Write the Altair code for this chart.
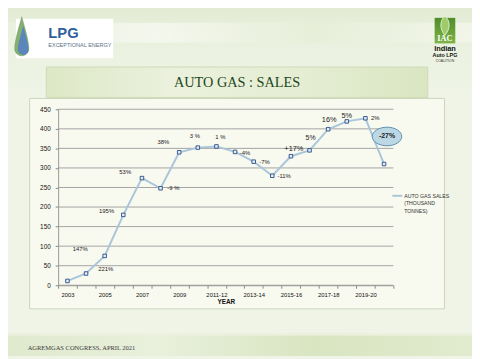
import json
import altair as alt
import pandas as pd

# ---------------- data ----------------
categories = ["2003", "2004", "2005", "2006", "2007", "2008", "2009", "2010-11",
              "2011-12", "2012-13", "2013-14", "2014-15", "2015-16", "2016-17",
              "2017-18", "2018-19", "2019-20", "2020-21"]
sales = [11, 30, 75, 180, 274, 248, 340, 352, 355, 341, 316, 280, 330, 345,
         399, 419, 427, 310]
growth_labels = ["", "147%", "221%", "195%", "53%", "-9 %", "38%", "3 %", "1 %",
                 "-4%", "-7%", "-11%", "+17%", "5%", "16%", "5%", "2%", "-27%"]
shown_ticks = ["2003", "2005", "2007", "2009", "2011-12", "2013-14", "2015-16",
               "2017-18", "2019-20"]
y_ticks = [0, 50, 100, 150, 200, 250, 300, 350, 400, 450]
legend_lines = ["AUTO GAS SALES", "(THOUSAND", "TONNES)"]

# ---------------- layout (label offsets in px, font sizes) ----------------
label_dx = [0, -6, 1, -17, -17, 13, -16, -3, 4, 10, 11, 12, 3, 1, 1, 0, 10, 3]
label_dy = [0, -25, 13, -4, -6, 0, -10, -12, -10, 1, 0, 0, -7, -13, -9, -5, 0, -28]
label_size = [6, 6, 6, 6, 6, 6, 6, 6, 6, 6, 6, 6, 7.5, 7, 7.5, 7.5, 6, 7]

df = pd.DataFrame({"cat": categories, "sales": sales, "lbl": growth_labels})
grid_df = pd.DataFrame({"sales": y_ticks})
one = pd.DataFrame({"a": [0]})

X0, Y0 = 59, 108  # page position of plot origin
W, H = 341, 179

LINE_COL = "#a9c6da"


def box(x1, y1, x2, y2, **kw):
    return alt.Chart(one).mark_rect(**kw).encode(
        x=alt.value(x1 - X0), x2=alt.value(x2 - X0),
        y=alt.value(y1 - Y0), y2=alt.value(y2 - Y0))


def txt(px, py, s, **kw):
    return alt.Chart(one).mark_text(text=s, **kw).encode(
        x=alt.value(px - X0), y=alt.value(py - Y0))


def shape(px, py, path, size, **kw):
    return alt.Chart(one).mark_point(shape=path, size=size, filled=True,
                                     opacity=1, **kw).encode(
        x=alt.value(px - X0), y=alt.value(py - Y0))


def grad(colors, vertical=False):
    n = len(colors) - 1
    return alt.LinearGradient(
        gradient="linear",
        stops=[alt.GradientStop(color=c, offset=i / n) for i, c in enumerate(colors)],
        x1=0, x2=0 if vertical else 1, y1=0, y2=1 if vertical else 0)


DROP = "M0,-1 C0.1,-0.6 0.36,0.2 0.36,0.62 A0.36,0.36 0 1 1 -0.36,0.62 C-0.36,0.2 -0.1,-0.6 0,-1 Z"
LEAF = "M0,-1 C0.55,-0.55 0.6,0.3 0,1 C-0.6,0.3 -0.55,-0.55 0,-1 Z"

back = [
    box(0, 0, 480, 100, fill=grad(["#e2ead3", "#ecf2e1", "#eff4e7"], vertical=True)),
    box(0, 20, 480, 40, fill=grad(["#eaf0de", "#f7f9f1", "#e6eed8", "#f4f7ec"]), opacity=0.8),
    box(0, 336, 480, 359, fill=grad(["#dfe9cc", "#e9f0dc", "#d8e5c1", "#e1ebce"])),
    box(0, 336, 480, 338, fill="#edf2e0"),
    # chart box
    box(30, 97, 452, 311, fill="#f8f9ef", stroke="#cdd4bb", strokeWidth=1),
    # title box
    box(47, 65, 435, 96, fill=grad(["#dde8c6", "#ebf1dd", "#e5edd3", "#dae6c2"]),
        stroke="#cfd9b6", strokeWidth=1),
]

front = [
    txt(241, 81, "AUTO GAS : SALES", font="Liberation Serif", fontSize=14.5,
        color="#1d4620", align="center", baseline="middle"),
    # LPG logo
    box(16, 16, 115, 56, fill="#ffffff"),
    shape(22, 34, DROP, 1600, fill="#86b06e", stroke="#6f9c5a", strokeWidth=0.5),
    shape(23.5, 38, DROP, 900, fill="#5a86bb"),
    txt(49, 35, "LPG", font="Liberation Sans", fontSize=15, fontWeight="bold",
        color="#2f5f9f", align="left", baseline="alphabetic"),
    txt(49, 45, "EXCEPTIONAL ENERGY", font="Liberation Sans", fontSize=5.6,
        color="#5b6f88", align="left", baseline="alphabetic"),
    # IAC logo
    box(442, 15, 463, 41, fill=grad(["#4f8c2a", "#7fb446"], vertical=True)),
    shape(452.5, 23, LEAF, 380, fill="#9fcb6c", stroke="#eef7e0", strokeWidth=0.8),
    txt(452.5, 38.5, "IAC", font="Liberation Serif", fontSize=8.5, fontWeight="bold",
        color="#ffffff", align="center", baseline="alphabetic"),
    txt(452.5, 49, "Indian", font="Liberation Sans", fontSize=7.5, fontWeight="bold",
        color="#111111", align="center", baseline="alphabetic"),
    txt(452.5, 55, "Auto LPG", font="Liberation Sans", fontSize=5.5, fontWeight="bold",
        color="#111111", align="center", baseline="alphabetic"),
    txt(452.5, 59.5, "COALITION", font="Liberation Sans", fontSize=3.5,
        color="#333333", align="center", baseline="alphabetic"),
    # footer
    txt(28, 353, "AGREMGAS CONGRESS, APRIL 2021", font="Liberation Serif", fontSize=6.6,
        color="#3a3a3a", align="left", baseline="alphabetic"),
    # legend
    alt.Chart(one).mark_rule(color=LINE_COL, strokeWidth=2).encode(
        x=alt.value(399 - X0), x2=alt.value(409 - X0), y=alt.value(196 - Y0)),
]
for i, s in enumerate(legend_lines):
    front.append(txt(411, 196 + 7.6 * i, s, font="Liberation Sans", fontSize=5.3,
                     color="#333333", align="left", baseline="middle"))

x_scale = alt.Scale(type="band", paddingInner=0, paddingOuter=0)
y_scale = alt.Scale(domain=[0, 450], nice=False, zero=True)
label_expr = f"indexof({json.dumps(shown_ticks)}, datum.value) >= 0 ? datum.label : ''"

x_axis = alt.Axis(title="YEAR", labelExpr=label_expr, labelAngle=0, labelFontSize=6,
                  labelColor="#111111", labelFont="Liberation Sans", labelPadding=3,
                  tickBand="extent", tickSize=3, tickColor="#888888",
                  domainColor="#999999", titleFontSize=6.5, titleFont="Liberation Sans",
                  titleFontWeight="bold", titleColor="#111111", titlePadding=2,
                  grid=False, zindex=1)
y_axis = alt.Axis(title=None, values=y_ticks, labelFontSize=6.5, labelColor="#111111",
                  labelFont="Liberation Sans", labelPadding=5, tickSize=3,
                  tickColor="#888888", domainColor="#999999", grid=False, zindex=1)


def X():
    return alt.X("cat:N", sort=categories, scale=x_scale, bandPosition=0.5, axis=x_axis)


def Y():
    return alt.Y("sales:Q", scale=y_scale, axis=y_axis)


grid = alt.Chart(grid_df).mark_rule(color="#a3a3a3", strokeWidth=1).encode(y=Y())

line = alt.Chart(df).mark_line(color=LINE_COL, strokeWidth=2).encode(x=X(), y=Y())

pts = alt.Chart(df).mark_point(shape="square", size=13, filled=True, opacity=1,
                               fill="#e3edf6", stroke="#2a4a86", strokeWidth=0.9).encode(
    x=X(), y=Y())

ellipse = alt.Chart(df).transform_filter(alt.datum.cat == "2020-21").mark_point(
    shape="M-1,0 A1,0.63 0 1,0 1,0 A1,0.63 0 1,0 -1,0 Z", size=900, filled=True,
    opacity=1, fill="#bcd8e5", stroke="#5f8fae", strokeWidth=1, xOffset=3, yOffset=-28
).encode(x=X(), y=Y())

labels = []
for i, c in enumerate(categories):
    if not growth_labels[i]:
        continue
    labels.append(
        alt.Chart(df).transform_filter(alt.datum.cat == c).mark_text(
            dx=label_dx[i], dy=label_dy[i], fontSize=label_size[i],
            font="Liberation Sans", color="#222222", align="center", baseline="middle",
            fontWeight="bold" if c == "2020-21" else "normal"
        ).encode(x=X(), y=Y(), text="lbl:N"))

chart = alt.layer(*back, grid, line, pts, ellipse, *labels, *front).properties(
    width=W, height=H,
    padding={"left": 51, "top": 100, "right": 80, "bottom": 72},
    autosize=alt.AutoSizeParams(type="none"),
    background="#eff4e7",
).configure_view(stroke=None)

chart.save("out.html", embed_options={"renderer": "svg", "actions": False})
